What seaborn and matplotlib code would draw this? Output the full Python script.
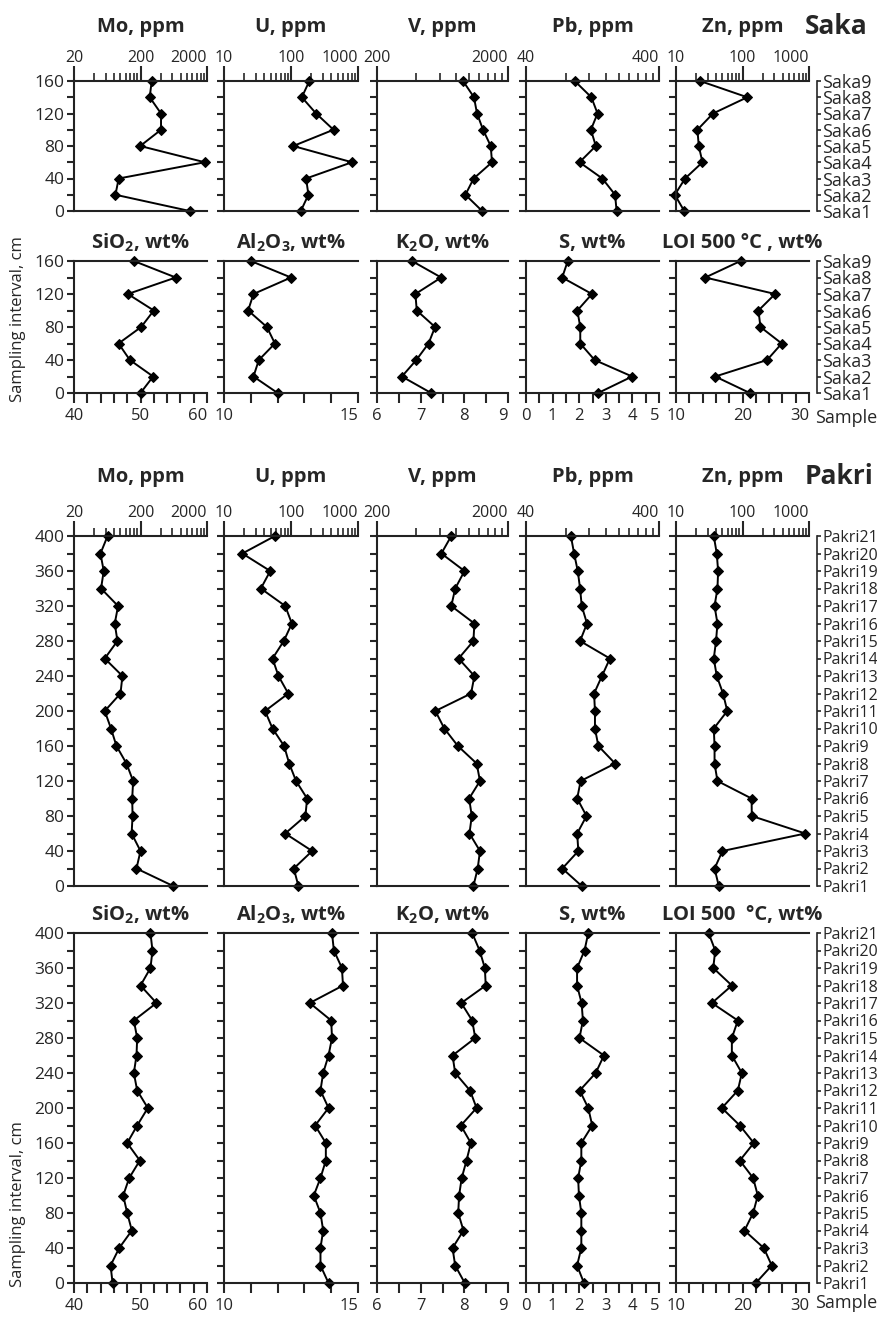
import matplotlib
matplotlib.use("Agg")
import matplotlib.pyplot as plt
import matplotlib.ticker as mticker
import seaborn as sns

# Saka core, sample 1 (0 cm) to sample 9 (160 cm)
saka_depth = [0, 20, 40, 60, 80, 100, 120, 140, 160]
saka_samples = ["Saka1", "Saka2", "Saka3", "Saka4", "Saka5", "Saka6", "Saka7", "Saka8", "Saka9"]
saka_mo = [1100, 84, 94, 1850, 198, 407, 407, 275, 295]
saka_u = [140, 182, 168, 813, 108, 431, 237, 145, 188]
saka_v = [1270, 946, 1094, 1510, 1476, 1290, 1160, 1100, 907]
saka_pb = [192, 187, 150, 101, 134, 123, 138, 124, 93]
saka_zn = [13.3, 9.6, 13.7, 25, 22, 21, 36, 118, 23]
saka_sio2 = [50.0, 51.9, 48.4, 46.7, 50.1, 52.0, 48.1, 55.3, 49.0]
saka_al2o3 = [12.0, 11.1, 11.3, 11.9, 11.6, 10.9, 11.1, 12.5, 11.0]
saka_k2o = [7.24, 6.57, 6.90, 7.18, 7.33, 6.91, 6.88, 7.47, 6.80]
saka_s = [2.71, 3.99, 2.58, 2.04, 2.04, 1.93, 2.48, 1.36, 1.57]
saka_loi = [21.1, 15.9, 23.7, 25.9, 22.7, 22.4, 24.9, 14.4, 19.7]

# Pakri core, sample 1 (0 cm) to sample 21 (400 cm)
pakri_depth = list(range(0, 401, 20))
pakri_samples = [f"Pakri{i}" for i in range(1, 22)]
pakri_mo = [620, 174, 200, 147, 152, 150, 155, 123, 87, 72, 58, 100, 107, 58, 90, 82, 92, 51, 56, 50, 64]
pakri_u = [129, 110, 207, 82, 164, 174, 119, 94, 79, 53, 41, 91, 65, 53, 78, 103, 82, 35.5, 49, 18.8, 57.5]
pakri_v = [1089, 1174, 1222, 1016, 1058, 1010, 1222, 1153, 829, 653, 558, 1045, 1108, 839, 1089, 1108, 738, 791, 931, 620, 738]
pakri_pb = [105, 75, 99, 97, 114, 97, 103, 187, 140, 132, 132, 130, 149, 171, 102, 115, 105, 102, 98, 92, 87]
pakri_zn = [44, 38, 50, 880, 138, 137, 42, 38, 38, 37, 59, 51, 41, 37, 40, 42, 38, 42, 43, 41, 37]
pakri_sio2 = [45.8, 45.5, 46.8, 48.7, 48.0, 47.4, 48.3, 49.9, 48.0, 49.5, 51.1, 49.5, 49.0, 49.4, 49.5, 49.0, 52.4, 50.0, 51.5, 51.8, 51.5]
pakri_al2o3 = [13.9, 13.6, 13.6, 13.7, 13.6, 13.35, 13.6, 13.8, 13.8, 13.4, 13.9, 13.6, 13.7, 13.9, 14.03, 14.0, 13.2, 14.44, 14.4, 14.1, 14.03]
pakri_k2o = [8.01, 7.79, 7.73, 7.98, 7.86, 7.88, 7.94, 8.05, 8.15, 7.92, 8.28, 8.13, 7.79, 7.73, 8.25, 8.18, 7.93, 8.49, 8.47, 8.35, 8.18]
pakri_s = [2.18, 1.92, 2.08, 2.08, 2.08, 1.99, 1.96, 2.08, 2.08, 2.49, 2.34, 2.02, 2.62, 2.93, 2.01, 2.14, 2.09, 1.92, 1.92, 2.2, 2.34]
pakri_loi = [22.0, 24.4, 23.2, 20.3, 21.6, 22.3, 21.6, 19.6, 21.7, 19.6, 16.9, 19.3, 19.9, 18.4, 18.4, 19.3, 15.4, 18.4, 15.6, 15.9, 14.9]

trace_titles = ["Mo, ppm", "U, ppm", "V, ppm", "Pb, ppm", "Zn, ppm"]
trace_ranges = [(20, 2000), (10, 1000), (200, 2000), (40, 400), (10, 1000)]
major_titles_saka = [r"SiO$_\mathbf{2}$, wt%", r"Al$_\mathbf{2}$O$_\mathbf{3}$, wt%",
                     r"K$_\mathbf{2}$O, wt%", "S, wt%", "LOI 500 °C , wt%"]
major_titles_pakri = [r"SiO$_\mathbf{2}$, wt%", r"Al$_\mathbf{2}$O$_\mathbf{3}$, wt%",
                      r"K$_\mathbf{2}$O, wt%", "S, wt%", "LOI 500  °C, wt%"]
# (min, max, label step, tick step)
major_ranges = [(40, 60, 10, 2), (10, 15, 5, 1), (6, 9, 1, 0.5), (0, 5, 1, 0.5), (10, 30, 10, 2)]

sns.set_style("ticks")
plt.rcParams["font.family"] = ["Open Sans", "DejaVu Sans"]
plt.rcParams["mathtext.fontset"] = "custom"
plt.rcParams["mathtext.rm"] = "Open Sans"
plt.rcParams["mathtext.bf"] = "Open Sans:bold"

W, H = 877, 1318
fig = plt.figure(figsize=(W / 100, H / 100), dpi=100)
COLS = [(74, 207), (224, 358), (377, 508), (526, 659), (676, 809)]
LW = 1.5
TOP_FS = 11.5
Y_FS = 12.5
BOT_FS = 12
TITLE_FS = 14.5


def rect(x0, x1, y0, y1):
    return [x0 / W, 1 - y1 / H, (x1 - x0) / W, (y1 - y0) / H]


def fx(x):
    return x / W


def fy(y):
    return 1 - y / H


def draw_profile(ax, values, depth):
    sns.lineplot(x=values, y=depth, sort=False, estimator=None, color="black",
                 marker="D", markersize=5.5, markeredgecolor="black", linewidth=1.4,
                 ax=ax, clip_on=False)


def style_depth_axis(ax, depth, first):
    top = depth[-1]
    ax.set_ylim(0, top)
    ax.set_yticks(depth)
    if first:
        ax.set_yticklabels([str(d) if d % 40 == 0 else "" for d in depth], fontsize=Y_FS)
    else:
        ax.set_yticklabels([])
    ax.tick_params(axis="y", direction="out", length=5, width=LW, pad=2)
    ax.spines["right"].set_visible(False)
    for s in ["left", "top", "bottom"]:
        ax.spines[s].set_linewidth(LW)
        ax.spines[s].set_color("#222222")
    ax.set_xlabel("")
    ax.set_ylabel("")


def align_last_label(ax):
    labels = [t for t in ax.xaxis.get_majorticklabels() if t.get_text()]
    if labels:
        labels[-1].set_horizontalalignment("right")


def trace_row(y0, y1, data, depth, title_y):
    axes = []
    for i, (vals, (lo, hi)) in enumerate(zip(data, trace_ranges)):
        x0, x1 = COLS[i]
        ax = fig.add_axes(rect(x0, x1, y0, y1))
        ax.set_xscale("log")
        draw_profile(ax, vals, depth)
        ax.set_xlim(lo, hi)
        majors, minors = [], []
        v = lo
        while v <= hi * 1.001:
            majors.append(v)
            if v < hi:
                minors += [v * k for k in range(2, 10)]
            v *= 10
        ax.xaxis.set_major_locator(mticker.FixedLocator(majors))
        ax.xaxis.set_minor_locator(mticker.FixedLocator(minors))
        ax.xaxis.set_major_formatter(mticker.FixedFormatter([str(int(m)) for m in majors]))
        ax.xaxis.set_minor_formatter(mticker.NullFormatter())
        ax.xaxis.set_ticks_position("top")
        ax.xaxis.set_label_position("top")
        ax.tick_params(axis="x", which="major", direction="out", length=11, width=LW,
                       labelsize=TOP_FS, pad=0)
        ax.tick_params(axis="x", which="minor", direction="out", length=6, width=1.2)
        style_depth_axis(ax, depth, i == 0)
        align_last_label(ax)
        fig.text(fx((x0 + x1) / 2), fy(title_y), trace_titles[i], ha="center", va="center",
                 fontsize=TITLE_FS, fontweight="bold")
        axes.append(ax)
    return axes


def major_row(y0, y1, data, depth, title_y, titles):
    axes = []
    for i, (vals, (lo, hi, lstep, tstep)) in enumerate(zip(data, major_ranges)):
        x0, x1 = COLS[i]
        ax = fig.add_axes(rect(x0, x1, y0, y1))
        draw_profile(ax, vals, depth)
        ax.set_xlim(lo, hi)
        n = int(round((hi - lo) / tstep))
        ticks = [lo + k * tstep for k in range(n + 1)]
        labels = []
        for t in ticks:
            if abs((t - lo) / lstep - round((t - lo) / lstep)) < 1e-6:
                labels.append(str(int(round(t))))
            else:
                labels.append("")
        ax.set_xticks(ticks)
        ax.set_xticklabels(labels, fontsize=BOT_FS)
        ax.tick_params(axis="x", direction="out", length=7, width=LW, pad=4)
        style_depth_axis(ax, depth, i == 0)
        align_last_label(ax)
        fig.text(fx((x0 + x1) / 2), fy(title_y), titles[i], ha="center", va="center",
                 fontsize=TITLE_FS, fontweight="bold")
        axes.append(ax)
    return axes


def sample_axis(ax, depth, names, fs):
    tw = ax.twinx()
    tw.set_ylim(ax.get_ylim())
    for s in ["left", "top", "bottom"]:
        tw.spines[s].set_visible(False)
    tw.spines["right"].set_position(("outward", 6))
    tw.spines["right"].set_linewidth(1.2)
    tw.set_yticks(depth)
    tw.set_yticklabels(names, fontsize=fs)
    tw.tick_params(axis="y", direction="out", length=3, width=1.2, pad=0.5)
    tw.set_ylabel("")


# Saka
saka_top = trace_row(81, 211, [saka_mo, saka_u, saka_v, saka_pb, saka_zn], saka_depth, 27)
saka_bot = major_row(261, 393, [saka_sio2, saka_al2o3, saka_k2o, saka_s, saka_loi],
                     saka_depth, 243, major_titles_saka)
sample_axis(saka_top[-1], saka_depth, saka_samples, 13)
sample_axis(saka_bot[-1], saka_depth, saka_samples, 13)
fig.text(fx(805), fy(27), "Saka", ha="left", va="center", fontsize=19, fontweight="bold")
fig.text(fx(18), fy(319), "Sampling interval, cm", rotation=90, ha="center", va="center", fontsize=12)
fig.text(fx(815), fy(418), "Sample", ha="left", va="center", fontsize=13)

# Pakri
pakri_top = trace_row(536, 886, [pakri_mo, pakri_u, pakri_v, pakri_pb, pakri_zn], pakri_depth, 477)
pakri_bot = major_row(933, 1283, [pakri_sio2, pakri_al2o3, pakri_k2o, pakri_s, pakri_loi],
                      pakri_depth, 915, major_titles_pakri)
sample_axis(pakri_top[-1], pakri_depth, pakri_samples, 11.5)
sample_axis(pakri_bot[-1], pakri_depth, pakri_samples, 11.5)
fig.text(fx(805), fy(477), "Pakri", ha="left", va="center", fontsize=19, fontweight="bold")
fig.text(fx(18), fy(1204), "Sampling interval, cm", rotation=90, ha="center", va="center", fontsize=12)
fig.text(fx(815), fy(1303), "Sample", ha="left", va="center", fontsize=13)

fig.savefig("out.png", dpi=100, facecolor="white")
